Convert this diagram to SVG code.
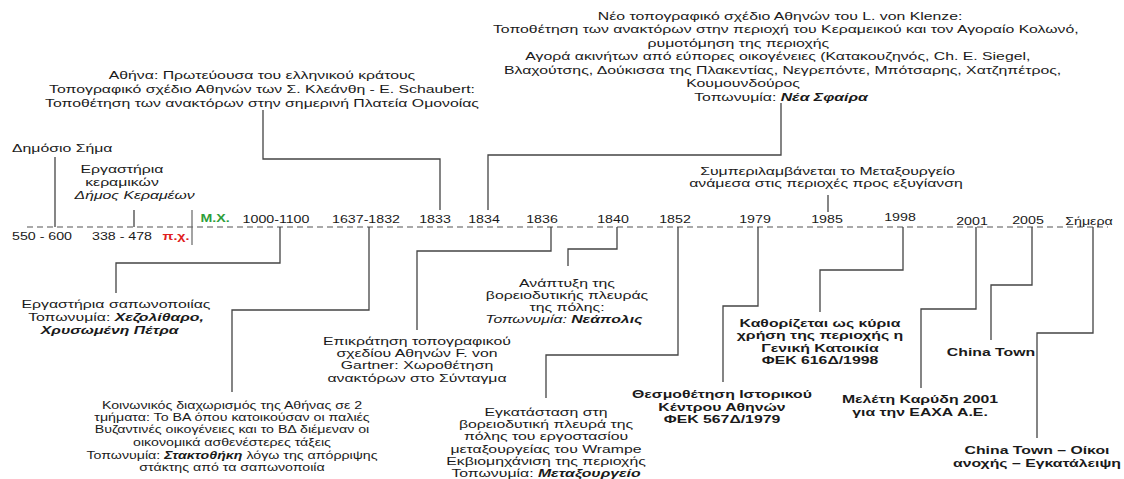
<svg xmlns="http://www.w3.org/2000/svg" width="1124" height="479" viewBox="0 0 1124 479">
<style>
text{font-family:"Liberation Sans",Arial,sans-serif;font-size:10px;fill:#1a1a1a;text-anchor:middle}
.s{text-anchor:start}
.b{font-weight:bold}
.i{font-style:italic}
.bi{font-weight:bold;font-style:italic}
.red{fill:#e02020;font-weight:bold}
.grn{fill:#2e9e3a;font-weight:bold}
.c{fill:none;stroke:#444;stroke-width:1.3}
.axis{fill:none;stroke:#555;stroke-width:1.2;stroke-dasharray:6 4}
.sep{fill:none;stroke:#666;stroke-width:1.2}
</style>
<rect width="1124" height="479" fill="#fff"/>
<g id="timeline">
<line class="axis" x1="27" y1="227" x2="1108" y2="227"/>
<line class="sep" x1="192" y1="210" x2="192" y2="245"/>
<text transform="translate(42,240) scale(1.42 1)">550 - 600</text>
<text transform="translate(122,240) scale(1.42 1)">338 - 478</text>
<text class="red" transform="translate(176,240) scale(1.42 1)">π.χ.</text>
<text class="grn" transform="translate(215,222) scale(1.42 1)">Μ.Χ.</text>
<text transform="translate(276,223) scale(1.42 1)">1000-1100</text>
<text transform="translate(366,223) scale(1.42 1)">1637-1832</text>
<text transform="translate(435,223) scale(1.42 1)">1833</text>
<text transform="translate(484,223) scale(1.42 1)">1834</text>
<text transform="translate(542,223) scale(1.42 1)">1836</text>
<text transform="translate(613,223) scale(1.42 1)">1840</text>
<text transform="translate(675,223) scale(1.42 1)">1852</text>
<text transform="translate(755,223) scale(1.42 1)">1979</text>
<text transform="translate(827,223) scale(1.42 1)">1985</text>
<text transform="translate(900,221) scale(1.42 1)">1998</text>
<text transform="translate(972,225) scale(1.42 1)">2001</text>
<text transform="translate(1028,224) scale(1.42 1)">2005</text>
<text transform="translate(1089,225) scale(1.42 1)">Σήμερα</text>
</g>
<g id="connectors">
<path class="c" d="M55,157V227"/>
<path class="c" d="M134,210V227"/>
<path class="c" d="M263,110V159H440V210"/>
<path class="c" d="M781,103V155H488V210"/>
<path class="c" d="M828,195V212"/>
<path class="c" d="M280,227V263H116V293"/>
<path class="c" d="M369,227V310H232V392"/>
<path class="c" d="M551,227V251H417V330"/>
<path class="c" d="M617,227V249H568V266"/>
<path class="c" d="M678,227V355H546V398"/>
<path class="c" d="M758,227V306H723V382"/>
<path class="c" d="M903,227V270H820V312"/>
<path class="c" d="M976,227V309H921V388"/>
<path class="c" d="M1032,227V285H991V340"/>
<path class="c" d="M1093,227V333H1037V438"/>
</g>
<g id="n-dimosio">
<text class="s" transform="translate(12,152) scale(1.58 1)">Δημόσιο Σήμα</text>
</g>
<g id="n-kerameikos">
<text transform="translate(122,0) scale(1.58 1)"><tspan x="0" y="173">Εργαστήρια</tspan><tspan x="0" y="186">κεραμικών</tspan><tspan x="8" y="199" class="i">Δήμος Κεραμέων</tspan></text>
</g>
<g id="n-1833">
<text transform="translate(262,0) scale(1.58 1)"><tspan x="0" y="79">Αθήνα: Πρωτεύουσα του ελληνικού κράτους</tspan><tspan x="0" y="93">Τοπογραφικό σχέδιο Αθηνών των Σ. Κλεάνθη -  E. Schaubert:</tspan><tspan x="0" y="107">Τοποθέτηση των ανακτόρων στην σημερινή Πλατεία Ομονοίας</tspan></text>
</g>
<g id="n-1834">
<text transform="translate(781,0) scale(1.58 1)"><tspan x="-0.6" y="20">Νέο τοπογραφικό σχέδιο Αθηνών του L. von Klenze:</tspan><tspan x="3" y="33.5">Τοποθέτηση των ανακτόρων στην περιοχή του Κεραμεικού και τον Αγοραίο Κολωνό,</tspan><tspan x="-27" y="47">ρυμοτόμηση της περιοχής</tspan><tspan x="-2" y="60.5">Αγορά ακινήτων από εύπορες οικογένειες (Κατακουζηνός, Ch. E. Siegel,</tspan><tspan x="1" y="74">Βλαχούτσης, Δούκισσα της Πλακεντίας, Νεγρεπόντε, Μπότσαρης, Χατζηπέτρος,</tspan><tspan x="-24" y="87.5">Κουμουνδούρος</tspan><tspan x="0" y="101">Τοπωνυμία: <tspan class="bi">Νέα Σφαίρα</tspan></tspan></text>
</g>
<g id="n-1985">
<text transform="translate(826,0) scale(1.58 1)"><tspan x="1" y="175">Συμπεριλαμβάνεται το Μεταξουργείο</tspan><tspan x="0" y="187">ανάμεσα στις περιοχές προς εξυγίανση</tspan></text>
</g>
<g id="n-1000">
<text transform="translate(116,0) scale(1.58 1)"><tspan x="0" y="308">Εργαστήρια σαπωνοποιίας</tspan><tspan x="0" y="321">Τοπωνυμία: <tspan class="bi">Χεζολίθαρο,</tspan></tspan><tspan x="-4" y="334" class="bi">Χρυσωμένη Πέτρα</tspan></text>
</g>
<g id="n-1637">
<text transform="translate(232,0) scale(1.42 1)"><tspan x="0" y="409">Κοινωνικός διαχωρισμός της Αθήνας σε 2</tspan><tspan x="0" y="421">τμήματα: Το ΒΑ όπου κατοικούσαν οι παλιές</tspan><tspan x="0" y="433">Βυζαντινές οικογένειες και το ΒΔ διέμεναν οι</tspan><tspan x="0" y="446">οικονομικά ασθενέστερες τάξεις</tspan><tspan x="0" y="459">Τοπωνυμία: <tspan class="bi">Στακτοθήκη</tspan> λόγω της απόρριψης</tspan><tspan x="0" y="471">στάκτης από τα σαπωνοποιία</tspan></text>
</g>
<g id="n-1836">
<text transform="translate(417,0) scale(1.58 1)"><tspan x="0" y="345">Επικράτηση τοπογραφικού</tspan><tspan x="0" y="357">σχεδίου Αθηνών F. von</tspan><tspan x="0" y="369">Gartner: Χωροθέτηση</tspan><tspan x="0" y="382">ανακτόρων στο Σύνταγμα</tspan></text>
</g>
<g id="n-1840">
<text transform="translate(567,0) scale(1.58 1)"><tspan x="0" y="287">Ανάπτυξη της</tspan><tspan x="0" y="299">βορειοδυτικής πλευράς</tspan><tspan x="0" y="311">της πόλης:</tspan><tspan x="-2" y="323"><tspan class="i">Τοπωνυμία: </tspan><tspan class="bi">Νεάπολις</tspan></tspan></text>
</g>
<g id="n-1852">
<text transform="translate(546,0) scale(1.58 1)"><tspan x="0" y="416">Εγκατάσταση στη</tspan><tspan x="0" y="428">βορειοδυτική πλευρά της</tspan><tspan x="0" y="440">πόλης του εργοστασίου</tspan><tspan x="0" y="453">μεταξουργείας του Wrampe</tspan><tspan x="0" y="465">Εκβιομηχάνιση της περιοχής</tspan><tspan x="0" y="477">Τοπωνυμία: <tspan class="bi">Μεταξουργείο</tspan></tspan></text>
</g>
<g id="n-1979">
<text class="b" transform="translate(722,0) scale(1.58 1)"><tspan x="0" y="398">Θεσμοθέτηση Ιστορικού</tspan><tspan x="0" y="411">Κέντρου Αθηνών</tspan><tspan x="0" y="423">ΦΕΚ 567Δ/1979</tspan></text>
</g>
<g id="n-1998">
<text class="b" transform="translate(820,0) scale(1.58 1)"><tspan x="0" y="327">Καθορίζεται ως κύρια</tspan><tspan x="0" y="339">χρήση της περιοχής η</tspan><tspan x="0" y="352">Γενική Κατοικία</tspan><tspan x="0" y="364">ΦΕΚ 616Δ/1998</tspan></text>
</g>
<g id="n-2001">
<text class="b" transform="translate(920,0) scale(1.58 1)"><tspan x="0" y="403">Μελέτη Καρύδη 2001</tspan><tspan x="0" y="416">για την ΕΑΧΑ Α.Ε.</tspan></text>
</g>
<g id="n-2005">
<text class="b" transform="translate(991,356) scale(1.58 1)">China Town</text>
</g>
<g id="n-today">
<text class="b" transform="translate(1037,0) scale(1.58 1)"><tspan x="0" y="454">China Town – Οίκοι</tspan><tspan x="0" y="467">ανοχής – Εγκατάλειψη</tspan></text>
</g>
</svg>
